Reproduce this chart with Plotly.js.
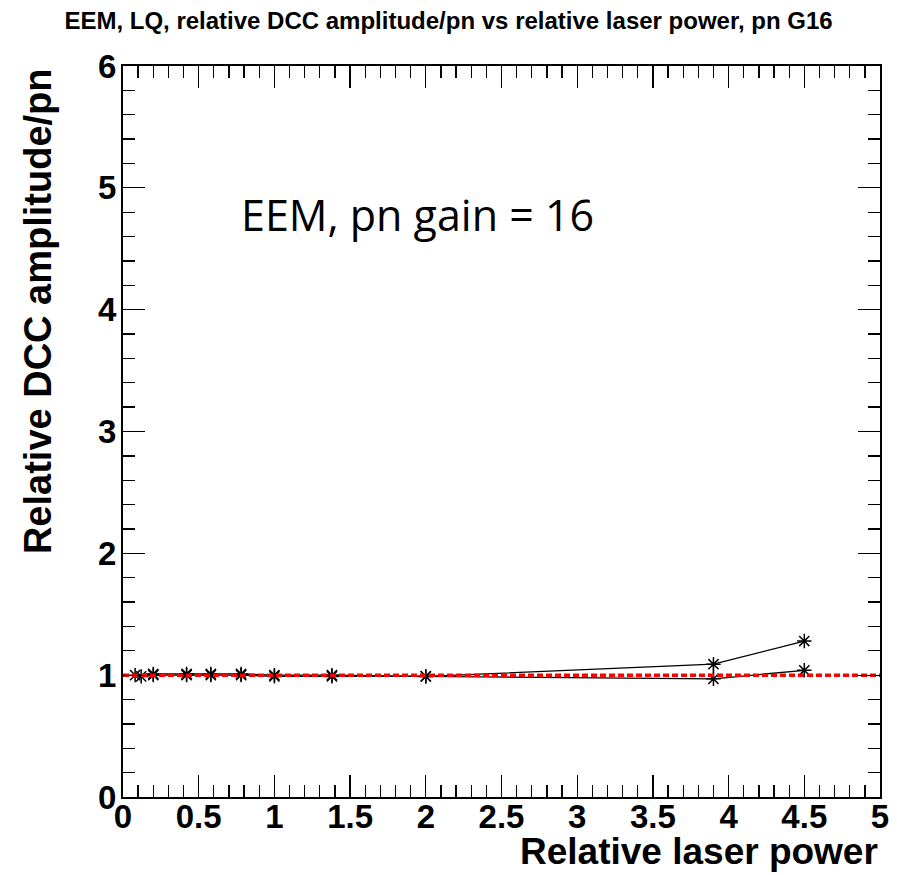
<!DOCTYPE html>
<html>
<head>
<meta charset="utf-8">
<script src="https://cdn.plot.ly/plotly-3.0.1.min.js"></script>
<style>html,body{margin:0;padding:0;background:#fff;}#chart{width:897px;height:875px;}</style>
</head>
<body>
<div id="chart"></div>
<script>
// Upper series (relative laser power vs relative DCC amplitude/pn)
const powerA = [0.08, 0.2, 0.42, 0.58, 0.78, 1.0, 1.38, 2.0, 3.9, 4.5];
const ampA   = [1.00, 1.01, 1.01, 1.01, 1.01, 1.00, 1.00, 0.99, 1.09, 1.28];
const errDownA = [0, 0, 0, 0, 0, 0, 0, 0, 0.12, 0];
// Lower series
const powerB = [0.12, 0.2, 0.42, 0.58, 0.78, 1.0, 1.38, 2.0, 3.9, 4.5];
const ampB   = [0.99, 1.00, 1.00, 1.00, 1.00, 0.99, 0.99, 0.99, 0.97, 1.04];
// Reference line
const refX = [0, 5];
const refY = [1, 1];

const titleText = "EEM, LQ, relative DCC amplitude/pn vs relative laser power, pn G16";
const xTitle = "Relative laser power";
const yTitle = "Relative DCC amplitude/pn";
const label = "EEM, pn gain = 16";

const markerStyle = {symbol: 'asterisk-open', size: 12, color: '#000', line: {color: '#000', width: 1.5}};

const traces = [
  {x: powerA, y: ampA, mode: 'lines+markers', line: {color: '#000', width: 1.3},
   marker: markerStyle,
   error_y: {type: 'data', symmetric: false, array: errDownA.map(() => 0), arrayminus: errDownA, width: 0, thickness: 1.3, color: '#000'},
   showlegend: false, hoverinfo: 'x+y'},
  {x: powerB, y: ampB, mode: 'lines+markers', line: {color: '#000', width: 1.3},
   marker: markerStyle, showlegend: false, hoverinfo: 'x+y'},
  {x: refX, y: refY, mode: 'lines', line: {color: '#ff0000', width: 3.5, dash: '6px,3px'},
   showlegend: false, hoverinfo: 'skip'}
];

const axisCommon = {
  showgrid: false, zeroline: false, showline: true, linecolor: '#000', linewidth: 2,
  mirror: 'ticks', ticks: 'inside', tickcolor: '#000', tickwidth: 1.3,
  tickfont: {family: 'Liberation Sans, Arial, sans-serif', size: 33, color: '#000', weight: 'bold'}
};

const layout = {
  width: 897, height: 875,
  margin: {l: 123, r: 17, t: 66, b: 78},
  paper_bgcolor: '#fff', plot_bgcolor: '#fff',
  title: {text: titleText, x: 0.5, xanchor: 'center', y: 0.977, yanchor: 'middle',
          font: {family: 'Liberation Sans, Arial, sans-serif', size: 24, color: '#000', weight: 'bold'}},
  xaxis: Object.assign({}, axisCommon, {
    range: [0, 5], dtick: 0.5, tick0: 0, ticklen: 22, tickangle: 0, ticklabelstandoff: -11,
    minor: {dtick: 0.1, ticks: 'inside', ticklen: 12, tickcolor: '#000', tickwidth: 1.3}
  }),
  yaxis: Object.assign({}, axisCommon, {
    range: [0, 6], dtick: 1, tick0: 0, ticklen: 22, ticklabelstandoff: -2,
    minor: {dtick: 0.2, ticks: 'inside', ticklen: 12, tickcolor: '#000', tickwidth: 1.3}
  }),
  annotations: [
    {text: label, xref: 'paper', yref: 'paper', x: 0.153, y: 0.797, xanchor: 'left', yanchor: 'middle',
     showarrow: false, font: {family: 'Liberation Sans Narrow, Open Sans, sans-serif', size: 43, color: '#000'}},
    {text: xTitle, xref: 'paper', yref: 'paper', x: 1.0, y: -0.1055, xanchor: 'right', yanchor: 'bottom',
     showarrow: false, font: {family: 'Liberation Sans, Arial, sans-serif', size: 37, color: '#000', weight: 'bold'}},
    {text: yTitle, xref: 'paper', yref: 'paper', x: -0.112, y: 0.665, xanchor: 'center', yanchor: 'middle',
     textangle: -90, showarrow: false,
     font: {family: 'Liberation Sans, Arial, sans-serif', size: 38, color: '#000', weight: 'bold'}}
  ]
};

Plotly.newPlot('chart', traces, layout, {displayModeBar: false, staticPlot: true});
</script>
</body>
</html>
